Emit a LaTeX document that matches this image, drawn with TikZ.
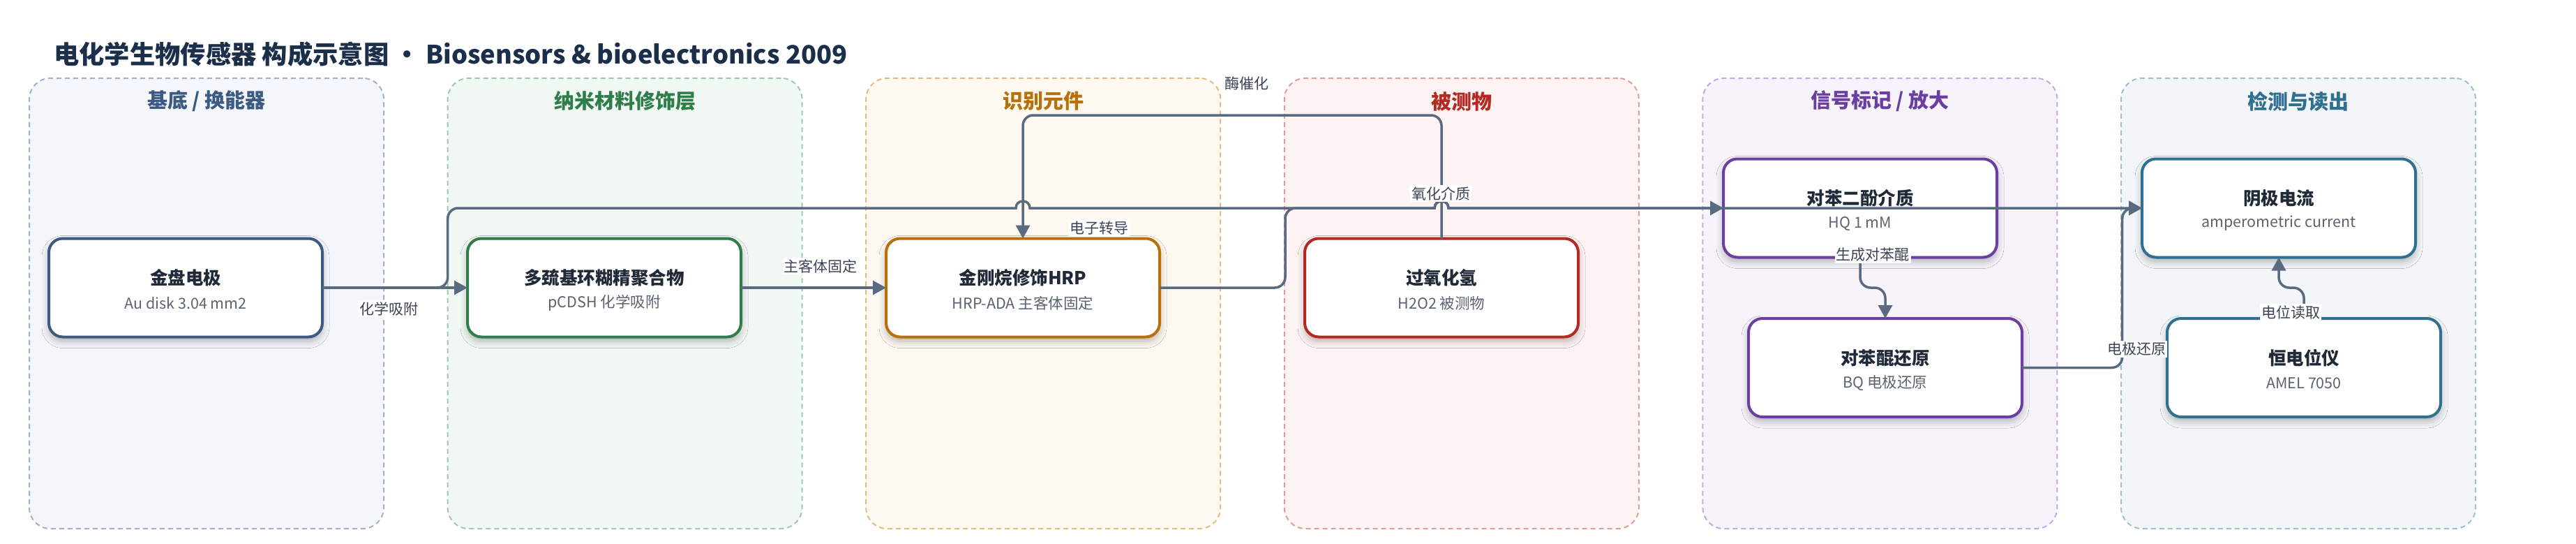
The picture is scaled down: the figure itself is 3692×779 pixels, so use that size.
\documentclass[tikz,border=0pt]{standalone}
\usepackage{fontspec}
\setmainfont{Noto Sans CJK SC}
\usetikzlibrary{arrows.meta,shadows.blur,calc}
\definecolor{ttl}{HTML}{1B2F4B}
\definecolor{edgec}{HTML}{5A6A80}
\definecolor{lblc}{HTML}{3A4456}
\definecolor{ntc}{HTML}{1F2937}
\definecolor{nsc}{HTML}{5A6372}
\definecolor{lAf}{HTML}{F4F6FB}\definecolor{lAd}{HTML}{A3B1C6}\definecolor{lAt}{HTML}{3D5A80}
\definecolor{lBf}{HTML}{F1F8F3}\definecolor{lBd}{HTML}{9FC9AB}\definecolor{lBt}{HTML}{2E7D4A}
\definecolor{lCf}{HTML}{FDF8F0}\definecolor{lCd}{HTML}{E2BD7F}\definecolor{lCt}{HTML}{B8700A}
\definecolor{lDf}{HTML}{FDF3F2}\definecolor{lDd}{HTML}{E29C9A}\definecolor{lDt}{HTML}{B42A22}
\definecolor{lEf}{HTML}{F6F3FB}\definecolor{lEd}{HTML}{C2A9E0}\definecolor{lEt}{HTML}{6B3FA0}
\definecolor{lFf}{HTML}{F2F6F8}\definecolor{lFd}{HTML}{9FBFCE}\definecolor{lFt}{HTML}{2F6F8F}
\begin{document}
\begin{tikzpicture}[x=1pt,y=-1pt,
  lane/.style={rectangle, rounded corners=30pt, dash pattern=on 7pt off 5pt, line width=2pt,
    minimum width=508pt, minimum height=645pt, inner sep=0pt, outer sep=0pt},
  lanetitle/.style={font=\fontsize{29}{34}\selectfont\bfseries, inner sep=0pt},
  box/.style={rectangle, rounded corners=20pt, fill=white, line width=4pt,
    minimum width=392pt, minimum height=141pt, inner sep=0pt, outer sep=0pt,
    blur shadow={shadow xshift=0pt, shadow yshift=-6pt, shadow blur radius=10pt, shadow opacity=28}},
  ntitle/.style={font=\fontsize{25.5}{30}\selectfont\bfseries, text=ntc, inner sep=0pt},
  nsub/.style={font=\fontsize{21.5}{25}\selectfont, text=nsc, inner sep=0pt},
  edge/.style={draw=edgec, line width=3.5pt, -{Triangle[length=19pt,width=20pt]}},
  elabel/.style={font=\fontsize{21}{25}\selectfont, text=lblc, fill=white, inner sep=2pt}
]
\useasboundingbox (0,0) rectangle (3692,779);
\fill[white] (0,0) rectangle (3692,779);

% title
\node[anchor=west, font=\fontsize{36.3}{42}\selectfont\bfseries, text=ttl, inner sep=0pt] (title) at (77,78)
  {电化学生物传感器 构成示意图 · Biosensors \& bioelectronics 2009};

% lanes
\node[lane, fill=lAf, draw=lAd] (LA) at (296,434.5) {};
\node[lane, fill=lBf, draw=lBd] (LB) at (895.6,434.5) {};
\node[lane, fill=lCf, draw=lCd] (LC) at (1495.2,434.5) {};
\node[lane, fill=lDf, draw=lDd] (LD) at (2094.8,434.5) {};
\node[lane, fill=lEf, draw=lEd] (LE) at (2694.4,434.5) {};
\node[lane, fill=lFf, draw=lFd] (LF) at (3294,434.5) {};
\node[lanetitle, text=lAt] (LAt) at (296,145) {基底 / 换能器};
\node[lanetitle, text=lBt] (LBt) at (895.6,145) {纳米材料修饰层};
\node[lanetitle, text=lCt] (LCt) at (1495.2,145) {识别元件};
\node[lanetitle, text=lDt] (LDt) at (2094.8,145) {被测物};
\node[lanetitle, text=lEt] (LEt) at (2694.4,145) {信号标记 / 放大};
\node[lanetitle, text=lFt] (LFt) at (3294,145) {检测与读出};

% nodes
\node[box, draw=lAt] (n1) at (266,412) {};
\node[box, draw=lBt] (n2) at (866,412) {};
\node[box, draw=lCt] (n3) at (1466,412) {};
\node[box, draw=lDt] (n4) at (2066,412) {};
\node[box, draw=lEt] (n5) at (2666,298) {};
\node[box, draw=lEt] (n6) at (2702,526.5) {};
\node[box, draw=lFt] (n7) at (3266,298) {};
\node[box, draw=lFt] (n8) at (3302,526.5) {};

\node[ntitle] (n1a) at ($(n1)+(0,-14)$) {金盘电极};
\node[nsub]   (n1b) at ($(n1)+(0,22)$) {Au disk 3.04 mm2};
\node[ntitle] (n2a) at ($(n2)+(0,-14)$) {多巯基环糊精聚合物};
\node[nsub]   (n2b) at ($(n2)+(0,22)$) {pCDSH 化学吸附};
\node[ntitle] (n3a) at ($(n3)+(0,-14)$) {金刚烷修饰HRP};
\node[nsub]   (n3b) at ($(n3)+(0,22)$) {HRP-ADA 主客体固定};
\node[ntitle] (n4a) at ($(n4)+(0,-14)$) {过氧化氢};
\node[nsub]   (n4b) at ($(n4)+(0,22)$) {H2O2 被测物};
\node[ntitle] (n5a) at ($(n5)+(0,-14)$) {对苯二酚介质};
\node[nsub]   (n5b) at ($(n5)+(0,22)$) {HQ 1 mM};
\node[ntitle] (n6a) at ($(n6)+(0,-14)$) {对苯醌还原};
\node[nsub]   (n6b) at ($(n6)+(0,22)$) {BQ 电极还原};
\node[ntitle] (n7a) at ($(n7)+(0,-14)$) {阴极电流};
\node[nsub]   (n7b) at ($(n7)+(0,22)$) {amperometric current};
\node[ntitle] (n8a) at ($(n8)+(0,-14)$) {恒电位仪};
\node[nsub]   (n8b) at ($(n8)+(0,22)$) {AMEL 7050};

% edges
\draw[edge] (n1.east) -- (n2.west);
\draw[edge] (n2.east) -- (n3.west);
\draw[edge, rounded corners=15pt] (n1.east) -- (641.7,412) -- (641.7,298) -- (900,298) [sharp corners]
  -- (1456,298) .. controls (1456,284.7) and (1476,284.7) .. (1476,298)
  -- (2056,298) .. controls (2056,284.7) and (2076,284.7) .. (2076,298) -- (n7.west);
\draw[edge, rounded corners=15pt] (n4.north) -- (2066,165) -- (1466,165) -- (n3.north);
\draw[edge, rounded corners=15pt] (n3.east) -- (1842,412) -- (1842,298) -- (1950,298) [sharp corners]
  -- (2056,298) .. controls (2056,284.7) and (2076,284.7) .. (2076,298) -- (n5.west);
\draw[edge, rounded corners=15pt] (n5.south) -- (2666,412) -- (2702,412) -- (n6.north);
\draw[edge, rounded corners=15pt] (n6.east) -- (3041.7,526.5) -- (3041.7,298) -- (n7.west);
\draw[edge, rounded corners=15pt] (n8.north) -- (3302,412) -- (3266,412) -- (n7.south);

% edge labels
\node[elabel] (e1) at (557,442) {化学吸附};
\node[elabel] (e2) at (1176,381) {主客体固定};
\node[elabel] (e3) at (1575,327) {电子转导};
\node[elabel] (e4) at (1787,120) {酶催化};
\node[elabel] (e5) at (2065,277) {氧化介质};
\node[elabel] (e6) at (2684,365) {生成对苯醌};
\node[elabel] (e7) at (3062,500) {电极还原};
\node[elabel] (e8) at (3283,447) {电位读取};
\end{tikzpicture}
\end{document}
